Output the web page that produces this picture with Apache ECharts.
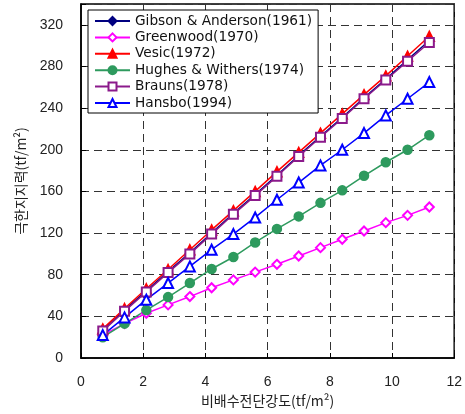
<!DOCTYPE html>
<html>
<head>
<meta charset="utf-8">
<script src="https://cdn.jsdelivr.net/npm/echarts@6/dist/echarts.min.js"></script>
<style>
    html, body { margin: 0; padding: 0; background: #fff; }
    #chart { width: 465px; height: 414px; }
</style>
</head>
<body>
<div id="chart"></div>
<script>
// 비배수전단강도 (tf/m2)
const shearStrength = [0.7, 1.4, 2.1, 2.8, 3.5, 4.2, 4.9, 5.6, 6.3, 7.0, 7.7, 8.4, 9.1, 9.8, 10.5, 11.2];

// 극한지지력 (tf/m2)
const gibson = [26.5, 46, 64.5, 83, 101, 120, 139, 157, 175.5, 194.5, 213, 231, 250, 268, 286.5, 305];
const greenwood = [22, 33, 43, 51, 59, 67.5, 75, 82.5, 90, 98, 106, 114, 122, 130, 137, 145];
const vesic = [28, 47.5, 66.5, 85, 104, 123, 141.5, 160, 179, 197.5, 216, 234.5, 253, 271, 290, 309];
const hughes = [20, 33, 46, 58.5, 72, 85.5, 97, 111, 124, 136, 149, 161, 175, 188, 200, 214];
const brauns = [26, 45, 63.5, 82, 100, 119, 138, 156, 174.5, 193.5, 212, 230, 249, 267, 285, 303];
const hansbo = [22, 39, 56, 72, 88, 104, 119, 135, 152, 168.5, 185, 200, 216, 233, 249, 265];

const xTicks = [0, 2, 4, 6, 8, 10, 12];
const yTicks = [0, 40, 80, 120, 160, 200, 240, 280, 320];

const pair = (ys) => ys.map((y, i) => [shearStrength[i], y]);

function makeSeries(name, data, color, symbol, size) {
    return {
        name: name,
        type: "line",
        data: pair(data),
        symbol: symbol,
        symbolSize: size,
        lineStyle: { color: color, width: 1.5 },
        itemStyle: { color: color, borderColor: color, borderWidth: 1.5 },
        emphasis: { disabled: true },
        animation: false,
    };
}

const chart = echarts.init(document.getElementById("chart"));

const options = {
    backgroundColor: "#fff",
    grid: {
        left: 81,
        right: 10,
        top: 4,
        bottom: 56,
        show: true,
        borderColor: "#000",
        borderWidth: 1.5,
    },
    legend: {
        orient: "vertical",
        left: 88,
        top: 10,
        padding: [3, 6, 2, 6],
        backgroundColor: "#fff",
        borderColor: "#000",
        borderWidth: 1,
        itemWidth: 35,
        itemHeight: 10,
        itemGap: 0.4,
        textStyle: {
            fontFamily: "DejaVu Sans",
            fontSize: 13.7,
            lineHeight: 16,
            color: "#111",
        },
        z: 10,
    },
    xAxis: {
        type: "value",
        min: 0,
        max: 12,
        interval: 2,
        name: "비배수전단강도(tf/m²)",
        nameLocation: "middle",
        nameGap: 36,
        nameTextStyle: { fontFamily: "Noto Sans CJK KR", fontSize: 14, color: "#222" },
        axisLine: { lineStyle: { color: "#000", width: 1.5 } },
        axisTick: { inside: true, length: 5, lineStyle: { color: "#000" } },
        axisLabel: {
            margin: 17,
            fontFamily: "Liberation Sans",
            fontSize: 14,
            color: "#222",
            formatter: (v) => (xTicks.includes(v) ? String(v) : ""),
        },
        splitLine: { show: true, lineStyle: { type: [8, 5], color: "#333", width: 1 } },
    },
    yAxis: {
        type: "value",
        min: 0,
        max: 340,
        interval: 40,
        name: "극한지지력(tf/m²)",
        nameLocation: "middle",
        nameGap: 53,
        nameTextStyle: { fontFamily: "Noto Sans CJK KR", fontSize: 14, color: "#222" },
        axisLine: { lineStyle: { color: "#000", width: 1.5 } },
        axisTick: { inside: true, length: 5, lineStyle: { color: "#000" } },
        axisLabel: {
            margin: 18,
            fontFamily: "Liberation Sans",
            fontSize: 14,
            color: "#222",
            formatter: (v) => (yTicks.includes(v) ? String(v) : ""),
        },
        splitLine: { show: true, lineStyle: { type: [8, 5], color: "#333", width: 1 } },
    },
    series: [
        makeSeries("Gibson & Anderson(1961)", gibson, "#000080", "diamond", 8),
        makeSeries("Greenwood(1970)", greenwood, "#FF00FF", "emptyDiamond", 9),
        makeSeries("Vesic(1972)", vesic, "#FF0000", "triangle", 10),
        makeSeries("Hughes & Withers(1974)", hughes, "#2E9A5E", "circle", 9),
        makeSeries("Brauns(1978)", brauns, "#8B1A8B", "emptyRect", 9),
        makeSeries("Hansbo(1994)", hansbo, "#0000FF", "emptyTriangle", 10),
    ],
};

chart.setOption(options);
</script>
</body>
</html>
